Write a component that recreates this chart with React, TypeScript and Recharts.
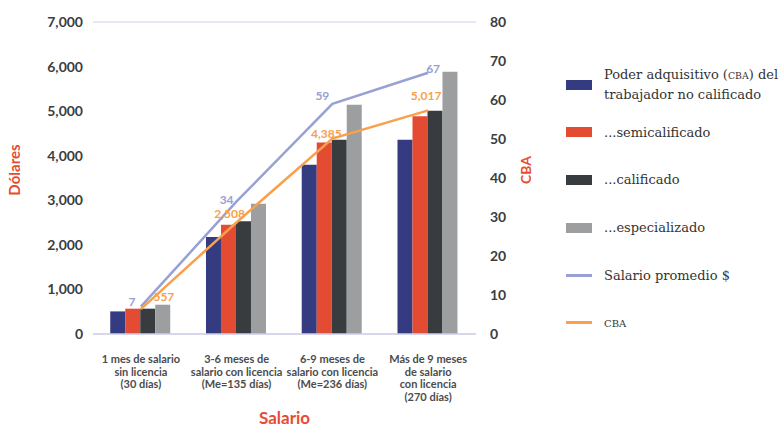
import React from 'react';
import {
  ComposedChart,
  Bar,
  Line,
  XAxis,
  YAxis,
  CartesianGrid,
  LabelList,
  Label,
} from 'recharts';

// categorías del eje X (saltos de línea = renglones de la etiqueta)
const categories = [
  '1 mes de salario\nsin licencia\n(30 días)',
  '3-6 meses de\nsalario con licencia\n(Me=135 días)',
  '6-9 meses de\nsalario con licencia\n(Me=236 días)',
  'Más de 9 meses\nde salario\ncon licencia\n(270 días)',
];

// barras en dólares
const noCalificado = [507, 2176, 3798, 4360];
const semicalificado = [568, 2452, 4299, 4883];
const calificado = [568, 2527, 4360, 5010];
const especializado = [657, 2923, 5144, 5885];

// líneas
const salarioPromedio = [7, 34, 59, 67];
const cbaLinea = [557, 2508, 4385, 5017];

const leftTicks = [0, 1000, 2000, 3000, 4000, 5000, 6000, 7000];
const rightTicks = [0, 10, 20, 30, 40, 50, 60, 70, 80];

const data = categories.map((name, i) => ({
  name,
  noCalificado: noCalificado[i],
  semicalificado: semicalificado[i],
  calificado: calificado[i],
  especializado: especializado[i],
  salarioPromedio: salarioPromedio[i],
  cba: cbaLinea[i],
}));

const RED = '#e84c30';
const BLUE_LINE = '#98a0d4';
const ORANGE_LINE = '#f9a04c';
const TICK = '#3b3d3f';
const SANS = 'Lato, "Open Sans", sans-serif';
const SERIF = '"DejaVu Serif", serif';

// desplazamientos de las etiquetas de cada línea
const salarioOffsets = [[-9, -4], [-10, 0], [-10, -7], [5, -3]];
const cbaOffsets = [[23, -11], [-7, -7], [-6, -4], [-2, -13]];

const makeLineLabel = (color: string, offsets: number[][], fmt: (v: number) => string) =>
  (props: any) => {
    const { x, y, value, index } = props;
    const [dx, dy] = offsets[index] || [0, -10];
    return (
      <text
        x={x + dx}
        y={y + dy}
        textAnchor="middle"
        dominantBaseline="middle"
        fill={color}
        fontSize={12}
        fontWeight={700}
        fontFamily={SANS}
      >
        {fmt(value)}
      </text>
    );
  };

const XTick = (props: any) => {
  const { x, y, payload } = props;
  const lines = String(payload.value).split('\n');
  return (
    <text x={x} y={y + 27} textAnchor="middle" fill="#4a4c4e" fontSize={11} fontWeight={700} fontFamily={SANS}>
      {lines.map((l, i) => (
        <tspan key={i} x={x} dy={i === 0 ? 0 : 12.5}>
          {l}
        </tspan>
      ))}
    </text>
  );
};

const RotatedLabel = ({ text, cx, cy, size }: { text: string; cx: number; cy: number; size: number }) => (
  <text
    x={cx}
    y={cy}
    transform={`rotate(-90, ${cx}, ${cy})`}
    textAnchor="middle"
    dominantBaseline="middle"
    fill={RED}
    fontSize={size}
    fontWeight={700}
    fontFamily={SANS}
  >
    {text}
  </text>
);

const legendItems = [
  { kind: 'bar', color: '#343b80', label: <>Poder adquisitivo (<span style={{ fontSize: '0.72em' }}>CBA</span>) del<br />trabajador no calificado</> },
  { kind: 'bar', color: '#e34c33', label: <>...semicalificado</> },
  { kind: 'bar', color: '#383c3f', label: <>...calificado</> },
  { kind: 'bar', color: '#9d9e9f', label: <>...especializado</> },
  { kind: 'line', color: BLUE_LINE, label: <>Salario promedio $</> },
  { kind: 'line', color: ORANGE_LINE, label: <span style={{ fontSize: 10 }}>CBA</span> },
];

export default function App() {
  return (
    <div style={{ position: 'absolute', left: 0, top: 0, width: 779, height: 429, background: '#fff' }}>
      <ComposedChart
        width={779}
        height={429}
        data={data}
        margin={{ top: 22, right: 0, bottom: 0, left: 0 }}
        barCategoryGap="18%"
        barGap={0}
      >
        <CartesianGrid vertical={false} stroke="#dfe1f1" strokeWidth={1.5} />
        <XAxis
          dataKey="name"
          height={95}
          axisLine={{ stroke: '#cfd2ea', strokeWidth: 1.5 }}
          tickLine={false}
          tickSize={0}
          tick={<XTick />}
          interval={0}
        >
          <Label
            value="Salario"
            position="insideBottom"
            offset={5}
            fill={RED}
            fontSize={17}
            fontWeight={700}
            fontFamily={SANS}
          />
        </XAxis>
        <YAxis
          yAxisId="left"
          width={93}
          domain={[0, 7000]}
          ticks={leftTicks}
          axisLine={false}
          tickLine={false}
          tickSize={0}
          tickMargin={10}
          tickFormatter={(v: number) => v.toLocaleString('en-US')}
          tick={{ fill: TICK, fontSize: 14, fontWeight: 700, fontFamily: SANS }}
        >
          <Label content={() => <RotatedLabel text="Dólares" cx={16} cy={170} size={15} />} />
        </YAxis>
        <YAxis
          yAxisId="right"
          orientation="right"
          width={303}
          domain={[0, 80]}
          ticks={rightTicks}
          axisLine={false}
          tickLine={false}
          tickSize={0}
          tickMargin={14}
          tick={{ fill: TICK, fontSize: 14, fontWeight: 700, fontFamily: SANS, textAnchor: 'start' }}
        >
          <Label content={() => <RotatedLabel text="CBA" cx={527} cy={170} size={14} />} />
        </YAxis>

        <Bar yAxisId="left" dataKey="noCalificado" fill="#343b80" isAnimationActive={false} />
        <Bar yAxisId="left" dataKey="semicalificado" fill="#e34c33" isAnimationActive={false} />
        <Bar yAxisId="left" dataKey="calificado" fill="#383c3f" isAnimationActive={false} />
        <Bar yAxisId="left" dataKey="especializado" fill="#9d9e9f" isAnimationActive={false} />

        <Line
          yAxisId="right"
          type="linear"
          dataKey="salarioPromedio"
          stroke={BLUE_LINE}
          strokeWidth={2.5}
          dot={false}
          isAnimationActive={false}
        >
          <LabelList dataKey="salarioPromedio" content={makeLineLabel(BLUE_LINE, salarioOffsets, (v) => String(v))} />
        </Line>
        <Line
          yAxisId="left"
          type="linear"
          dataKey="cba"
          stroke={ORANGE_LINE}
          strokeWidth={2.5}
          dot={false}
          isAnimationActive={false}
        >
          <LabelList dataKey="cba" content={makeLineLabel(ORANGE_LINE, cbaOffsets, (v) => v.toLocaleString('en-US'))} />
        </Line>
      </ComposedChart>

      <div style={{ position: 'absolute', left: 566, top: 61, width: 213, fontFamily: SERIF, fontSize: 13, color: '#333' }}>
        {legendItems.map((item, i) => (
          <div key={i} style={{ height: 47.6, display: 'flex', alignItems: 'center' }}>
            <span
              style={{
                display: 'inline-block',
                width: 26,
                height: item.kind === 'bar' ? 10 : 3,
                background: item.color,
                flexShrink: 0,
                marginRight: 12,
              }}
            />
            <span style={{ lineHeight: '19px' }}>{item.label}</span>
          </div>
        ))}
      </div>
    </div>
  );
}
